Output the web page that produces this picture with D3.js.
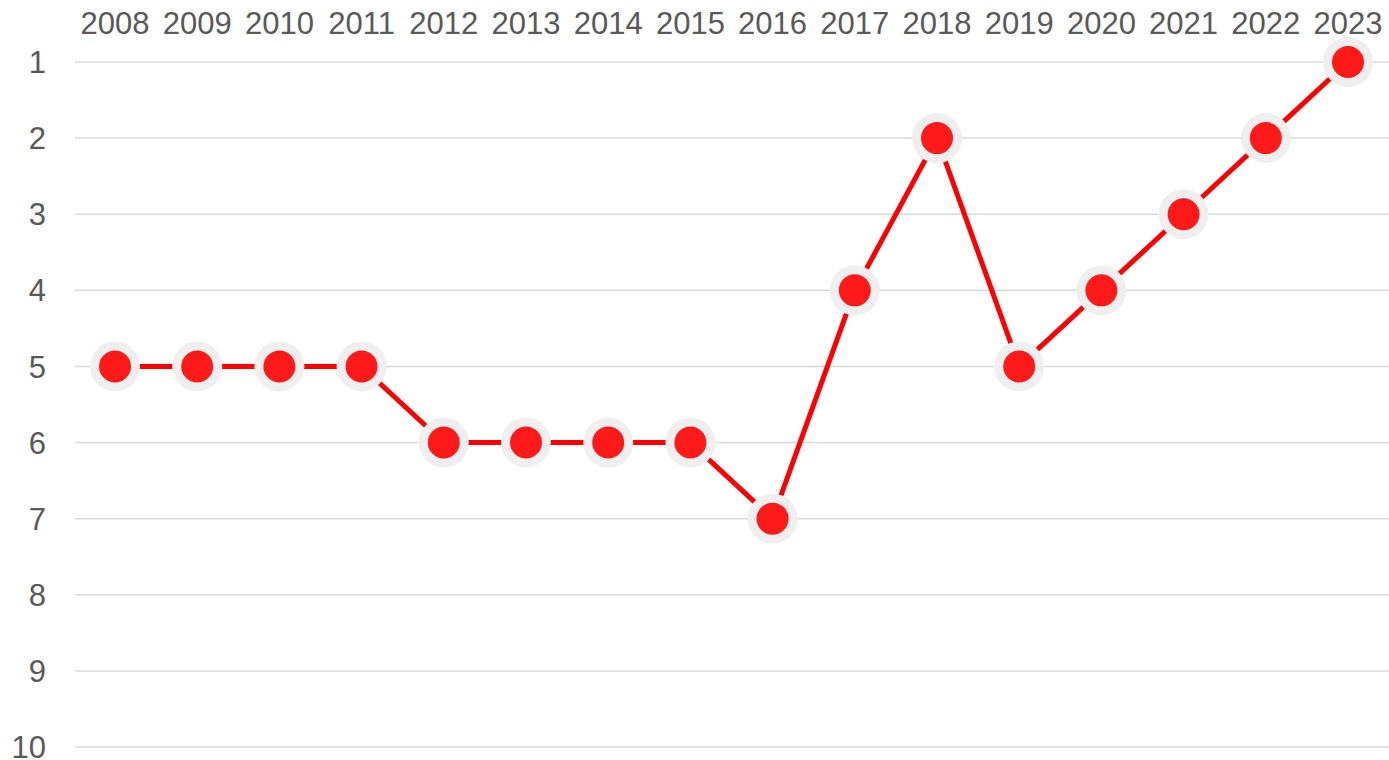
<!DOCTYPE html>
<html lang="en">
<head>
  <meta charset="utf-8">
  <script src="https://cdnjs.cloudflare.com/ajax/libs/d3/7.8.5/d3.min.js"></script>
  <style>
    html, body { margin: 0; padding: 0; background: #ffffff; }
    svg { display: block; }
    text { font-family: "Liberation Sans", Arial, sans-serif; fill: #595959; }
  </style>
</head>
<body>
<svg id="chart" width="1389" height="760"></svg>
<script>
// data
var years = ["2008", "2009", "2010", "2011", "2012", "2013", "2014", "2015",
             "2016", "2017", "2018", "2019", "2020", "2021", "2022", "2023"];
var ranks = [5, 5, 5, 5, 6, 6, 6, 6, 7, 4, 2, 5, 4, 3, 2, 1];
var rankTicks = [1, 2, 3, 4, 5, 6, 7, 8, 9, 10];

var svg = d3.select("#chart");

var x = d3.scalePoint()
  .domain(years)
  .range([115, 1348]);

var y = d3.scaleLinear()
  .domain([1, 10])
  .range([62, 747]);

// gridlines
svg.append("g")
  .selectAll("line")
  .data(rankTicks)
  .enter()
  .append("line")
  .attr("x1", 75)
  .attr("x2", 1389)
  .attr("y1", function(d) { return y(d); })
  .attr("y2", function(d) { return y(d); })
  .attr("stroke", "#d9d9d9")
  .attr("stroke-width", 1.5);

// y labels
svg.append("g")
  .selectAll("text")
  .data(rankTicks)
  .enter()
  .append("text")
  .attr("x", 46)
  .attr("y", function(d) { return y(d); })
  .attr("dy", "0.36em")
  .attr("text-anchor", "end")
  .style("font-size", "31px")
  .text(function(d) { return d; });

// x labels on top
svg.append("g")
  .selectAll("text")
  .data(years)
  .enter()
  .append("text")
  .attr("x", function(d) { return x(d); })
  .attr("y", 34)
  .attr("text-anchor", "middle")
  .style("font-size", "31px")
  .text(function(d) { return d; });

var line = d3.line()
  .x(function(d, i) { return x(years[i]); })
  .y(function(d) { return y(d); });

svg.append("path")
  .datum(ranks)
  .attr("d", line)
  .attr("fill", "none")
  .attr("stroke", "#ff0000")
  .attr("stroke-width", 5);

var pts = svg.append("g")
  .selectAll("g")
  .data(ranks)
  .enter()
  .append("g")
  .attr("transform", function(d, i) { return "translate(" + x(years[i]) + "," + y(d) + ")"; });

pts.append("circle")
  .attr("r", 25)
  .attr("fill", "#efefef");

pts.append("circle")
  .attr("r", 16)
  .attr("fill", "#ff1a1a");
</script>
</body>
</html>
